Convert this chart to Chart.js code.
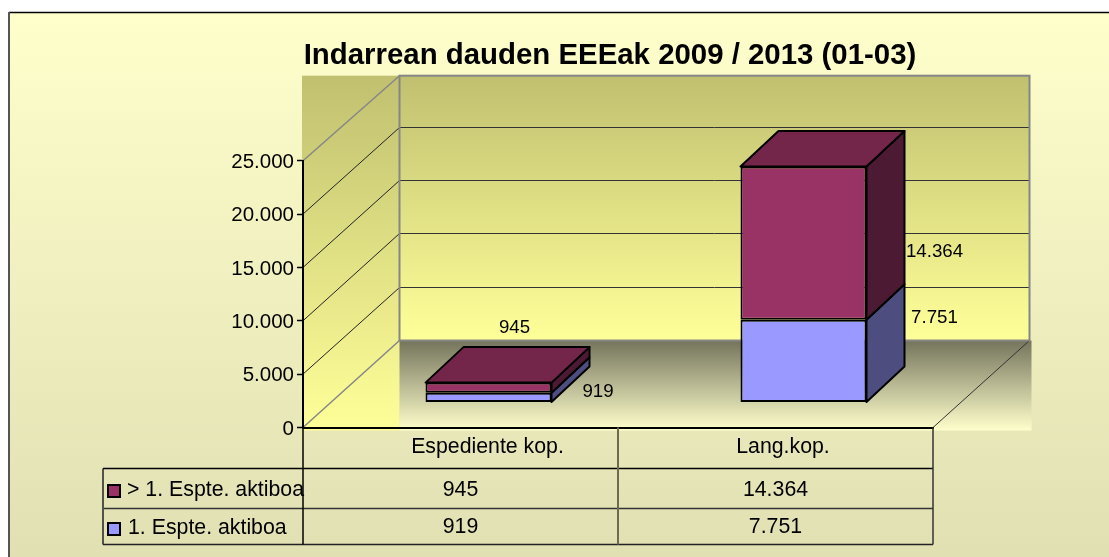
<!DOCTYPE html>
<html>
<head>
<meta charset="utf-8">
<style>
  html, body { margin: 0; padding: 0; background: #fff; }
  canvas { display: block; }
</style>
<script src="https://cdn.jsdelivr.net/npm/chart.js@4/dist/chart.umd.min.js"></script>
</head>
<body>
<canvas id="chart" width="1109" height="557"></canvas>
<script>
const chartTitle = "Indarrean dauden EEEak 2009 / 2013 (01-03)";
const categories = ["Espediente kop.", "Lang.kop."];
const seriesNames = ["1. Espte. aktiboa", "> 1. Espte. aktiboa"];
const firstActive = [919, 7751];
const moreActive = [945, 14364];
const axisMax = 25000;
const axisStep = 5000;

const FONT = "'Liberation Sans', Arial, sans-serif";
const wallDepth = { x: 96.5, y: -87 };
const barOffset = { x: 28, y: -25 };
const barDepth = { x: 38, y: -35.5 };
const faces = [
  { side: "#4d4d80", top: "#6f6fb0" },
  { side: "#4c1a33", top: "#732649" }
];
// where each value label sits relative to the middle of its front face
const labelShift = [
  [{ x: 109.5, y: -5 }, { x: 131, y: -43.5 }],
  [{ x: 26, y: -59.5 }, { x: 131, y: 8.5 }]
];
const headerShift = [27, 7.5];

function formatNumber(value) {
  return String(value).replace(/\B(?=(\d{3})+$)/g, ".");
}

function verticalGradient(ctx, y0, y1, c0, c1) {
  const g = ctx.createLinearGradient(0, y0, 0, y1);
  g.addColorStop(0, c0);
  g.addColorStop(1, c1);
  return g;
}

function line(ctx, x0, y0, x1, y1, color, width) {
  ctx.strokeStyle = color;
  ctx.lineWidth = width;
  ctx.beginPath();
  ctx.moveTo(x0, y0);
  ctx.lineTo(x1, y1);
  ctx.stroke();
}

function polygon(ctx, points, fill) {
  ctx.fillStyle = fill;
  ctx.strokeStyle = "#000";
  ctx.lineWidth = 2;
  ctx.lineJoin = "round";
  ctx.beginPath();
  points.forEach(([x, y], i) => (i ? ctx.lineTo(x, y) : ctx.moveTo(x, y)));
  ctx.closePath();
  ctx.fill();
  ctx.stroke();
}

function text(ctx, value, x, y, size, align = "center", weight = "") {
  ctx.fillStyle = "#000";
  ctx.font = `${weight} ${size}px ${FONT}`.trim();
  ctx.textAlign = align;
  ctx.textBaseline = "middle";
  ctx.fillText(value, x, y);
}

const walls = {
  id: "walls",
  beforeDraw(chart) {
    const { ctx, scales: { x: xs, y: ys }, chartArea: area, width, height } = chart;
    const backLeft = area.left + wallDepth.x;
    const backRight = area.right + wallDepth.x;
    const backBottom = area.bottom + wallDepth.y;
    const backY = (v) => ys.getPixelForValue(v) + wallDepth.y;
    const backTop = backY(axisMax) + 2;

    ctx.save();
    ctx.fillStyle = "#fff";
    ctx.fillRect(0, 0, width, height);
    ctx.fillStyle = verticalGradient(ctx, 12, height, "#ffffcc", "#e0e0b3");
    ctx.fillRect(9, 12, width - 9, height - 12);
    line(ctx, 9, 12.5, width, 12.5, "#000", 1.5);
    line(ctx, 9, 12, 9, height, "#555", 2);

    ctx.fillStyle = verticalGradient(ctx, backTop, area.bottom + 3, "#c0c070", "#ffff99");
    ctx.fillRect(area.left - 1, backTop, backLeft - area.left + 1, area.bottom + 3 - backTop);
    ctx.fillStyle = verticalGradient(ctx, backTop, backBottom, "#c0c070", "#ffff99");
    ctx.fillRect(backLeft, backTop, backRight - backLeft, backBottom - backTop);
    ctx.fillStyle = verticalGradient(ctx, backBottom, area.bottom + 3, "#74745c", "#ffffcc");
    ctx.fillRect(backLeft, backBottom, backRight + 2 - backLeft, area.bottom + 3 - backBottom);

    for (let v = axisStep; v < axisMax; v += axisStep) {
      const front = ys.getPixelForValue(v);
      const back = Math.floor(backY(v)) + 0.5;
      line(ctx, area.left, front, backLeft, back, "#222", 1);
      line(ctx, backLeft, back, backRight, back, "#333", 1);
    }
    line(ctx, area.left, ys.getPixelForValue(axisMax), backLeft, backTop, "#868686", 1.5);
    line(ctx, area.left, area.bottom, backLeft, backBottom, "#868686", 1.5);
    line(ctx, xs.right, area.bottom, backRight, backBottom, "#333", 1);
    ctx.strokeStyle = "#868686";
    ctx.lineWidth = 2;
    ctx.strokeRect(backLeft, backTop, backRight - backLeft, backBottom - backTop);
    ctx.restore();
  },
  beforeDatasetsDraw(chart) {
    chart.ctx.save();
    chart.ctx.translate(barOffset.x, barOffset.y);
  },
  afterDatasetsDraw(chart) {
    const { ctx } = chart;
    const lastSet = chart.data.datasets.length - 1;
    chart.data.datasets.forEach((set, d) => {
      chart.getDatasetMeta(d).data.forEach((bar) => {
        const { x, y, base, width } = bar.getProps(["x", "y", "base", "width"], true);
        const right = x + width / 2;
        const left = x - width / 2;
        polygon(ctx, [[right, y], [right + barDepth.x, y + barDepth.y], [right + barDepth.x, base + barDepth.y], [right, base]], faces[d].side);
        if (d === lastSet) {
          polygon(ctx, [[left, y], [left + barDepth.x, y + barDepth.y], [right + barDepth.x, y + barDepth.y], [right, y]], faces[d].top);
        }
      });
    });
    ctx.restore();

    ctx.save();
    chart.data.datasets.forEach((set, d) => {
      chart.getDatasetMeta(d).data.forEach((bar, i) => {
        const { x, y, base } = bar.getProps(["x", "y", "base"], true);
        const shift = labelShift[d][i];
        text(ctx, formatNumber(set.data[i]), x + barOffset.x + shift.x, (y + base) / 2 + barOffset.y + shift.y, 18.7);
      });
    });
    ctx.restore();
  },
  afterDraw(chart) {
    const { ctx, scales: { x: xs }, chartArea: area } = chart;
    const rows = [area.bottom, 468.5, 508.5, 544.5];
    const tableLeft = 103;
    const rowSets = [1, 0];

    ctx.save();
    text(ctx, chartTitle, 610, 56, 29.4, "center", "bold");

    line(ctx, tableLeft, rows[1], xs.right, rows[1], "#000", 1.5);
    line(ctx, tableLeft + 1, rows[2], xs.right, rows[2], "#333", 1.5);
    line(ctx, tableLeft, rows[3], xs.right, rows[3], "#222", 1.5);
    line(ctx, tableLeft, rows[1], tableLeft, rows[3], "#222", 1.5);
    line(ctx, area.left, area.bottom, area.left, rows[3], "#000", 1.5);
    line(ctx, xs.right, area.bottom, xs.right, rows[3], "#333", 1.5);

    const bandEdge = (xs.getPixelForValue(0) + xs.getPixelForValue(1)) / 2;
    line(ctx, bandEdge, area.bottom, bandEdge, rows[3], "#6b6b50", 2);

    categories.forEach((name, i) => {
      const cx = xs.getPixelForValue(i);
      text(ctx, name, cx + headerShift[i], 447, 21.3);
      rowSets.forEach((d, r) => {
        text(ctx, formatNumber(chart.data.datasets[d].data[i]), cx, 490 + r * 37.5, 21.3);
      });
    });

    rowSets.forEach((d, r) => {
      const cy = 490.5 + r * 38;
      ctx.fillStyle = chart.data.datasets[d].backgroundColor;
      ctx.strokeStyle = "#000";
      ctx.lineWidth = 2;
      ctx.fillRect(108, cy - 5.5, 12, 12);
      ctx.strokeRect(108, cy - 5.5, 12, 12);
      text(ctx, chart.data.datasets[d].label, r ? 128 : 127, cy, 21.3, "left");
    });
    ctx.restore();
  }
};

new Chart(document.getElementById("chart"), {
  type: "bar",
  data: {
    labels: categories,
    datasets: [
      { label: seriesNames[0], data: firstActive, backgroundColor: "#9999ff" },
      { label: seriesNames[1], data: moreActive, backgroundColor: "#993366" }
    ]
  },
  plugins: [walls],
  options: {
    responsive: false,
    animation: false,
    layout: { padding: { left: 0, top: 160.7, right: 176, bottom: 129.5 } },
    datasets: {
      bar: { barPercentage: 0.4, categoryPercentage: 1, borderColor: "#000", borderWidth: 2, borderSkipped: false }
    },
    plugins: {
      legend: { display: false },
      title: { display: false },
      tooltip: { enabled: false }
    },
    scales: {
      x: {
        stacked: true,
        afterFit(scale) {
          scale.height = 0;
        },
        grid: { display: false },
        border: { display: true, color: "#000", width: 2 },
        ticks: { display: false }
      },
      y: {
        stacked: true,
        min: 0,
        max: axisMax,
        afterFit(scale) {
          scale.width = 303;
          scale.paddingTop = 0;
          scale.paddingBottom = 0;
        },
        grid: { drawOnChartArea: false, drawTicks: true, tickLength: 6, tickColor: "#000", tickWidth: 1.5 },
        border: { display: true, color: "#000", width: 2 },
        ticks: {
          stepSize: axisStep,
          padding: 3,
          labelOffset: 1.5,
          color: "#000",
          font: { family: FONT, size: 20.5 },
          callback: (value) => formatNumber(value)
        }
      }
    }
  }
});
</script>
</body>
</html>
